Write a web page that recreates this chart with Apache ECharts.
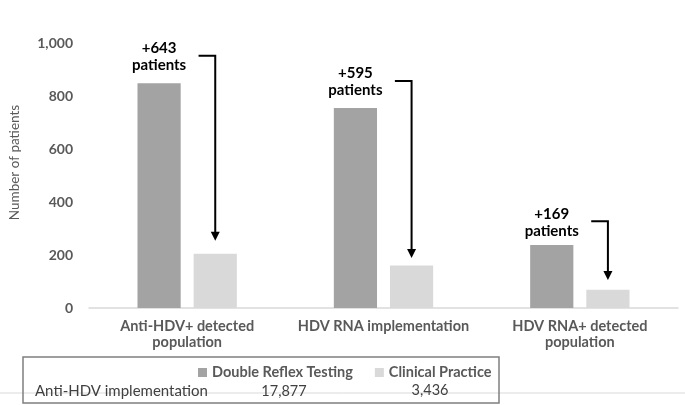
<!DOCTYPE html>
<html>
<head>
<meta charset="utf-8">
<script src="https://cdn.jsdelivr.net/npm/echarts@6/dist/echarts.min.js"></script>
<style>
  html, body { margin: 0; padding: 0; background: #fff; }
  #main { width: 685px; height: 405px; }
</style>
</head>
<body>
<div id="main"></div>
<script>
const categories = ["Anti-HDV+ detected\npopulation", "HDV RNA implementation", "HDV RNA+ detected\npopulation"];
const doubleReflex = [848, 755, 238];
const clinicalPractice = [205, 160, 69];
const gainLabels = ["+643", "+595", "+169"];
const arrowTop = [952, 857, 327];   // where the bracket starts (y value)
const arrowTip = [254, 189, 106];   // where the arrow head ends (y value)
const yTicks = [0, 200, 400, 600, 800, 1000];
const tableRowLabel = "Anti-HDV implementation";
const tableValues = ["17,877", "3,436"];

const FONT = "Lato, 'Open Sans', sans-serif";
const GREY = "#595959";

const arrowData = categories.map((c, i) => [i, arrowTop[i], arrowTip[i], gainLabels[i]]);

function renderArrow(params, api) {
  const i = api.value(0);
  const top = api.coord([i, api.value(1)]);
  const tip = api.coord([i, api.value(2)]);
  const band = api.size([1, 0])[0];
  const off = band * 0.143;          // centre of each bar of the pair
  const xText = top[0] - off;
  const xArrow = top[0] + off;
  const xStart = top[0] + band * 0.058;
  return {
    type: "group",
    children: [
      {
        type: "polyline",
        shape: { points: [[xStart, top[1]], [xArrow, top[1]], [xArrow, tip[1] - 7]] },
        style: { stroke: "#000", lineWidth: 2, fill: null }
      },
      {
        type: "polygon",
        shape: { points: [[xArrow - 4.5, tip[1] - 9], [xArrow + 4.5, tip[1] - 9], [xArrow, tip[1]]] },
        style: { fill: "#000" }
      },
      {
        type: "text",
        x: xText,
        y: top[1] + 1,
        style: {
          text: gainLabels[i] + "\npatients",
          align: "center",
          verticalAlign: "middle",
          fill: "#000",
          font: "bold 15px " + FONT,
          lineHeight: 17
        }
      }
    ]
  };
}

const chart = echarts.init(document.getElementById("main"));
chart.setOption({
  animation: false,
  backgroundColor: "#fff",
  grid: { left: 82, right: 7, top: 43, bottom: 97, containLabel: false },
  legend: {
    data: ["Double Reflex Testing", "Clinical Practice"],
    left: 193,
    top: 360,
    icon: "rect",
    itemWidth: 9,
    itemHeight: 9,
    itemGap: 22,
    textStyle: { color: GREY, fontWeight: "bold", fontSize: 14.5, fontFamily: FONT }
  },
  xAxis: {
    type: "category",
    data: categories,
    axisLine: { lineStyle: { color: "#d9d9d9", width: 1.5 } },
    axisTick: { show: false },
    axisLabel: {
      color: GREY,
      fontWeight: "bold",
      fontSize: 14.5,
      fontFamily: FONT,
      lineHeight: 16,
      margin: 10,
      interval: 0
    }
  },
  yAxis: {
    type: "value",
    min: yTicks[0],
    max: yTicks[yTicks.length - 1],
    interval: yTicks[1] - yTicks[0],
    name: "Number of patients",
    nameLocation: "middle",
    nameGap: 67,
    nameTextStyle: { color: GREY, fontSize: 13.5, fontFamily: FONT, padding: [0, 0, 0, 26] },
    axisLine: { show: false },
    axisTick: { show: false },
    splitLine: { show: false },
    axisLabel: {
      color: GREY,
      fontWeight: "bold",
      fontSize: 14,
      fontFamily: FONT,
      margin: 16,
      formatter: v => v.toLocaleString("en-US")
    }
  },
  series: [
    {
      name: "Double Reflex Testing",
      type: "bar",
      data: doubleReflex,
      barWidth: "22%",
      barGap: "30%",
      itemStyle: { color: "#a3a3a3" }
    },
    {
      name: "Clinical Practice",
      type: "bar",
      data: clinicalPractice,
      barWidth: "22%",
      barGap: "30%",
      itemStyle: { color: "#d9d9d9" }
    },
    {
      type: "custom",
      data: arrowData,
      renderItem: renderArrow,
      z: 5,
      silent: true
    }
  ],
  graphic: [
    {
      type: "line",
      shape: { x1: 0, y1: 393, x2: 685, y2: 393 },
      style: { stroke: "#d9d9d9", lineWidth: 1 }
    },
    {
      type: "rect",
      shape: { x: 23, y: 357, width: 476, height: 46 },
      style: { fill: null, stroke: "#7f7f7f", lineWidth: 1.5 }
    },
    {
      type: "text",
      x: 35,
      y: 391,
      style: { text: tableRowLabel, fill: "#404040", font: "15px " + FONT, verticalAlign: "middle" }
    },
    {
      type: "text",
      x: 284,
      y: 391,
      style: { text: tableValues[0], fill: "#404040", font: "14.5px " + FONT, align: "center", verticalAlign: "middle" }
    },
    {
      type: "text",
      x: 430,
      y: 390,
      style: { text: tableValues[1], fill: "#404040", font: "14.5px " + FONT, align: "center", verticalAlign: "middle" }
    }
  ]
});
</script>
</body>
</html>
